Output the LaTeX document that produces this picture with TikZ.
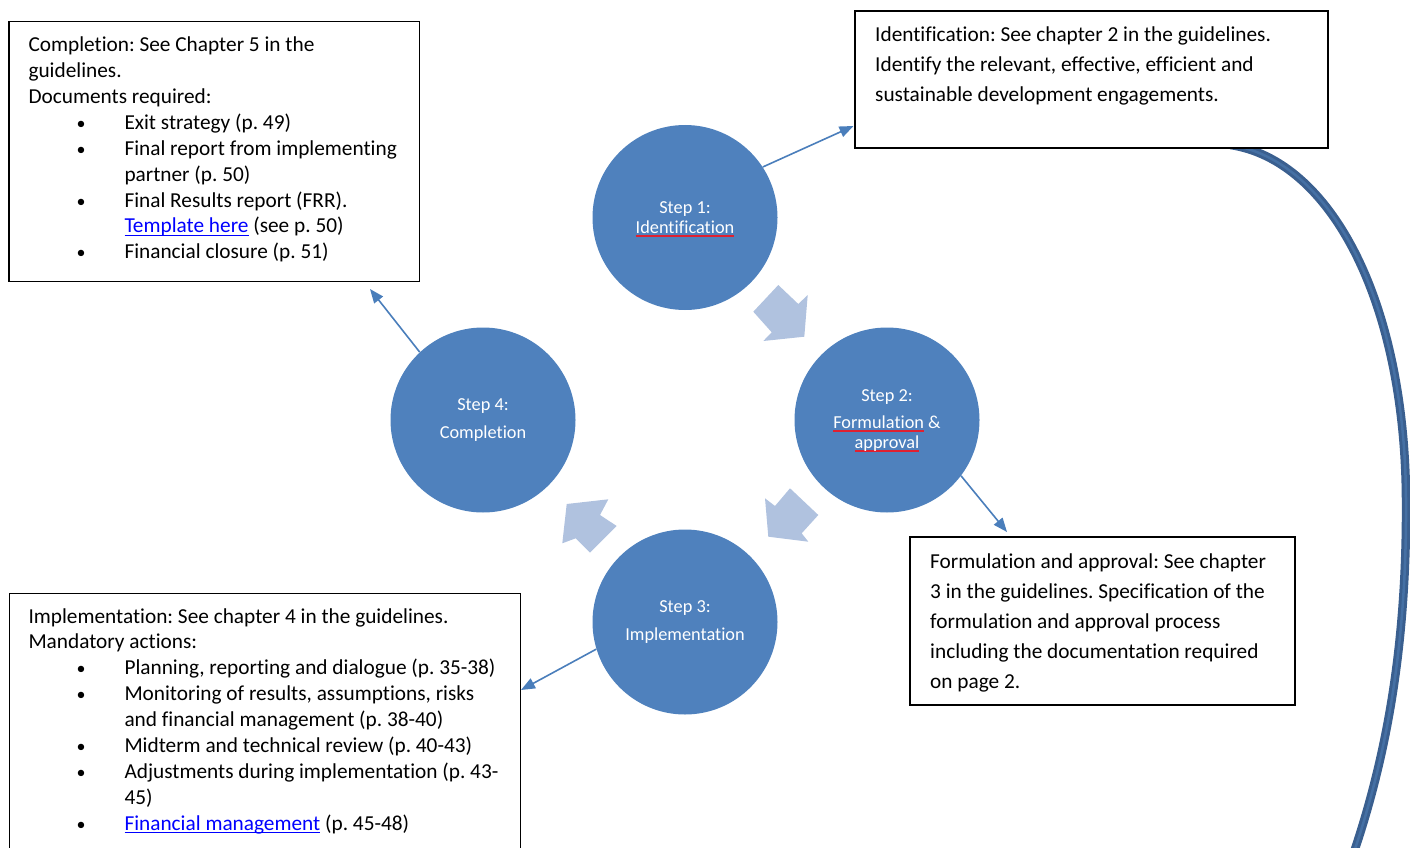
\documentclass[tikz,border=0pt]{standalone}
\usepackage{fontspec}
\setmainfont{Carlito}[Ligatures={NoCommon}]
\usetikzlibrary{arrows.meta,calc}
\frenchspacing
\definecolor{stepblue}{HTML}{4F81BD}
\definecolor{chevblue}{HTML}{B0C2DF}
\definecolor{linkline}{HTML}{4A7EBB}
\definecolor{curveblue}{HTML}{3A5F8F}
\definecolor{curvemid}{HTML}{4570A4}
\definecolor{hyper}{HTML}{0000FF}
\definecolor{spellred}{HTML}{E02030}
\newcommand\hlink[1]{\leavevmode{\color{hyper}\setbox0\hbox{#1}\rlap{\rule[-3pt]{\wd0}{1.4pt}}\box0}}
\newcommand\spellul[1]{\leavevmode{\setbox0\hbox{#1}\rlap{\textcolor{spellred}{\rule[-3.5pt]{\wd0}{1.5pt}}}\box0}}
\newcommand\bitem{\hspace*{48pt}\makebox[48pt][l]{\fontsize{18}{18}\selectfont •}}
\newcommand\bcont{\hspace*{96pt}}
\tikzset{
  infobox/.style={draw=black, fill=white, line width=#1, inner sep=0pt, anchor=north west},
  infobox/.default=1.3pt,
  boxtext/.style={anchor=base west, inner sep=0pt, font=\fontsize{21.3}{25.9}\selectfont},
  boxtextwide/.style={anchor=base west, inner sep=0pt, font=\fontsize{21.3}{30}\selectfont},
  stepcircle/.style={circle, fill=stepblue, draw=none, minimum size=185pt, inner sep=0pt},
  steptext/.style={anchor=base, inner sep=0pt, text=white, font=\fontsize{18.3}{20}\selectfont},
  chevron/.style={fill=chevblue, draw=none},
  thinarrow/.style={draw=linkline, line width=1.6pt, -{Triangle[length=14pt,width=11pt]}},
  bigcurve/.style={draw=curveblue, line width=8.5pt},
  bigcurvein/.style={draw=curvemid, line width=2.5pt}
}
\begin{document}
\begin{tikzpicture}[x=1pt,y=-1pt]
\useasboundingbox (0,0) rectangle (1410,848);

% big curved connector (drawn first, its start hidden under the box)
\coordinate (curvestart) at (1230.5,145);
\coordinate (curveend) at (1354,852);
\draw[bigcurve] (curvestart) .. controls (1330,160) and (1405,300) .. (1406,500) .. controls (1407,650) and (1385,760) .. (curveend);
\draw[bigcurvein] (curvestart) .. controls (1330,160) and (1405,300) .. (1406,500) .. controls (1407,650) and (1385,760) .. (curveend);

% boxes
\node[infobox=1.3pt, minimum width=410.7pt, minimum height=260pt] (compbox) at (8.3,20.7) {};
\node[infobox=1.8pt, minimum width=473pt, minimum height=137pt] (idbox) at (854,10) {};
\node[infobox=2pt, minimum width=385pt, minimum height=168pt] (formbox) at (909,536) {};
\node[infobox=1.3pt, minimum width=511pt, minimum height=300pt] (implbox) at (9,593) {};

\node[boxtext] (comptext) at ($(compbox.north west)+(20,31)$) {\parbox[t]{400pt}{\raggedright
Completion: See Chapter 5 in the\\
guidelines.\\
Documents required:\\
\bitem Exit strategy (p. 49)\\
\bitem Final report from implementing\\
\bcont partner (p. 50)\\
\bitem Final Results report (FRR).\\
\bcont \hlink{Template here} (see p. 50)\\
\bitem Financial closure (p. 51)}};

\node[boxtextwide] (idtext) at ($(idbox.north west)+(21,31.7)$) {\parbox[t]{470pt}{\raggedright
Identification: See chapter 2 in the guidelines.\\
Identify the relevant, effective, efficient and\\
sustainable development engagements.}};

\node[boxtextwide] (formtext) at ($(formbox.north west)+(21,32.5)$) {\parbox[t]{400pt}{\raggedright
Formulation and approval: See chapter\\
3 in the guidelines. Specification of the\\
formulation and approval process\\
including the documentation required\\
on page 2.}};

\node[boxtext] (impltext) at ($(implbox.north west)+(19.3,30)$) {\parbox[t]{500pt}{\raggedright
Implementation: See chapter 4 in the guidelines.\\
Mandatory actions:\\
\bitem Planning, reporting and dialogue (p. 35-38)\\
\bitem Monitoring of results, assumptions, risks\\
\bcont and financial management (p. 38-40)\\
\bitem Midterm and technical review (p. 40-43)\\
\bitem Adjustments during implementation (p. 43-\\
\bcont 45)\\
\bitem \hlink{Financial management} (p. 45-48)}};

% cycle block arrows
\fill[chevron] (753.3,311.7) -- (778.3,285) -- (798.3,304) -- (807.7,295) -- (804.3,336.7) -- (763.3,341) -- (771.7,332.3) -- cycle;
\fill[chevron] (790,488.3) -- (818.3,515) -- (801.7,533.3) -- (808.3,541.7) -- (768.3,536.7) -- (765,498.3) -- (775,506) -- cycle;
\fill[chevron] (616.7,526) -- (590,552.7) -- (575.7,538.3) -- (562.3,543.3) -- (566.7,504) -- (608.3,499.3) -- (600,515) -- cycle;

% step circles
\node[stepcircle] (c1) at (685,217.5) {};
\node[stepcircle] (c2) at (887,420) {};
\node[stepcircle] (c3) at (685,622) {};
\node[stepcircle] (c4) at (483,420) {};

\node[steptext] (t1) at (685,213.3) {\parbox[t]{200pt}{\centering Step 1:\\\spellul{Identification}}};
\node[steptext] (t2) at (887,401.7) {\parbox[t]{200pt}{\centering Step 2:\\[6.6pt]\spellul{Formulation} \&\\\spellul{approval}}};
\node[steptext] (t3) at (685,612.5) {\parbox[t]{200pt}{\centering Step 3:\\[8pt]Implementation}};
\node[steptext] (t4) at (483,410.5) {\parbox[t]{200pt}{\centering Step 4:\\[8pt]Completion}};

% connectors to the boxes
\coordinate (e1) at (853.5,126);
\coordinate (e2) at (1007,532);
\coordinate (e3) at (521,690);
\coordinate (e4) at (370,289);
\draw[thinarrow] (c1.33) -- (e1);
\draw[thinarrow] (c2.-37) -- (e2);
\draw[thinarrow] (c3.197) -- (e3);
\draw[thinarrow] (c4.133) -- (e4);
\end{tikzpicture}
\end{document}
